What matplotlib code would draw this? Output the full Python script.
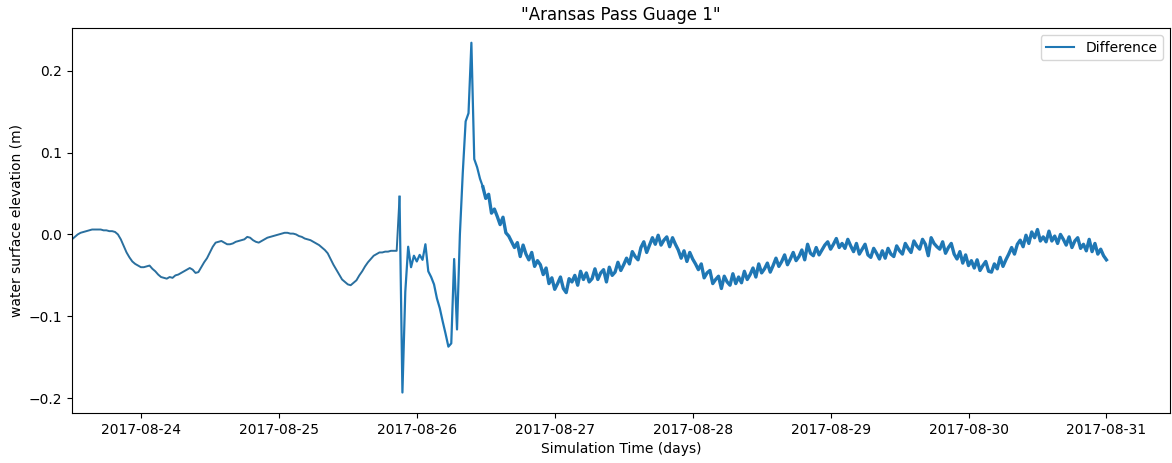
import matplotlib
matplotlib.use("Agg")
import matplotlib.pyplot as plt
import matplotlib.dates as mdates
import numpy as np
import pandas as pd

# Water surface elevation difference (m), sampled every 30 min from 2017-08-23 12:00
start_time = "2017-08-23 12:00"
sample_step = "30min"

# calm period before the storm (hours 0 - 56.5)
calm_vals = [
    -0.006, -0.003, 0.000, 0.002, 0.003, 0.004, 0.005, 0.006, 0.006, 0.006, 0.006, 0.005,
    0.005, 0.004, 0.004, 0.003, 0.000, -0.006, -0.014, -0.022, -0.028, -0.033, -0.036, -0.038,
    -0.040, -0.040, -0.039, -0.038, -0.042, -0.045, -0.049, -0.052, -0.053, -0.054, -0.052, -0.053,
    -0.050, -0.049, -0.047, -0.045, -0.043, -0.041, -0.043, -0.047, -0.046, -0.040, -0.034, -0.029,
    -0.022, -0.015, -0.010, -0.009, -0.008, -0.010, -0.012, -0.012, -0.011, -0.009, -0.008, -0.007,
    -0.006, -0.003, -0.004, -0.007, -0.009, -0.010, -0.008, -0.006, -0.004, -0.003, -0.002, -0.001,
    0.000, 0.001, 0.002, 0.002, 0.001, 0.001, 0.000, -0.002, -0.003, -0.005, -0.006, -0.007,
    -0.009, -0.011, -0.013, -0.016, -0.019, -0.023, -0.030, -0.037, -0.043, -0.049, -0.055, -0.058,
    -0.061, -0.062, -0.059, -0.056, -0.050, -0.045, -0.039, -0.034, -0.030, -0.026, -0.024, -0.022,
    -0.022, -0.021, -0.021, -0.020, -0.020, -0.020,
]

# landfall spikes (hours 57 - 71)
storm_vals = [
    0.046, -0.193, -0.070, -0.015, -0.040, -0.026, -0.033, -0.025, -0.031, -0.012, -0.045, -0.052,
    -0.061, -0.078, -0.090, -0.106, -0.121, -0.137, -0.133, -0.030, -0.116, 0.000, 0.075, 0.138,
    0.148, 0.234, 0.092, 0.082, 0.068,
]

# recovery (hours 71.5 - 180), noisy band
recovery_vals = [
    0.058, 0.044, 0.049, 0.026, 0.031, 0.022, 0.012, 0.021, 0.002, -0.002, -0.009, -0.016,
    -0.010, -0.027, -0.013, -0.024, -0.031, -0.022, -0.039, -0.032, -0.037, -0.049, -0.041, -0.060,
    -0.053, -0.067, -0.060, -0.052, -0.066, -0.071, -0.054, -0.058, -0.050, -0.062, -0.045, -0.055,
    -0.047, -0.058, -0.054, -0.042, -0.055, -0.047, -0.043, -0.058, -0.040, -0.050, -0.046, -0.034,
    -0.044, -0.037, -0.029, -0.036, -0.021, -0.027, -0.031, -0.016, -0.009, -0.022, -0.013, -0.004,
    -0.012, -0.001, -0.013, -0.007, -0.003, -0.015, -0.004, -0.012, -0.019, -0.029, -0.020, -0.033,
    -0.022, -0.030, -0.036, -0.043, -0.036, -0.053, -0.047, -0.044, -0.060, -0.055, -0.051, -0.066,
    -0.051, -0.058, -0.062, -0.048, -0.060, -0.052, -0.059, -0.045, -0.055, -0.049, -0.041, -0.052,
    -0.036, -0.047, -0.042, -0.035, -0.046, -0.038, -0.029, -0.039, -0.033, -0.025, -0.037, -0.030,
    -0.022, -0.032, -0.027, -0.019, -0.031, -0.012, -0.023, -0.026, -0.016, -0.025, -0.019, -0.013,
    -0.009, -0.018, -0.012, -0.005, -0.016, -0.011, -0.017, -0.006, -0.014, -0.021, -0.011, -0.024,
    -0.018, -0.012, -0.025, -0.028, -0.017, -0.023, -0.030, -0.020, -0.029, -0.017, -0.024, -0.027,
    -0.014, -0.020, -0.024, -0.011, -0.017, -0.022, -0.008, -0.014, -0.018, -0.006, -0.012, -0.026,
    -0.004, -0.011, -0.015, -0.018, -0.009, -0.023, -0.016, -0.011, -0.024, -0.030, -0.021, -0.035,
    -0.025, -0.038, -0.032, -0.041, -0.031, -0.044, -0.038, -0.033, -0.045, -0.046, -0.036, -0.042,
    -0.028, -0.039, -0.031, -0.024, -0.016, -0.024, -0.012, -0.007, -0.015, -0.001, -0.011, 0.003,
    -0.004, 0.006, -0.008, -0.003, -0.009, 0.004, -0.008, -0.002, -0.011, 0.000, -0.006, -0.013,
    -0.003, -0.016, -0.008, -0.004, -0.017, -0.012, -0.020, -0.006, -0.021, -0.011, -0.024, -0.018,
    -0.026, -0.031,
]

difference = np.array(calm_vals + storm_vals + recovery_vals)
times = pd.date_range(start_time, periods=len(difference), freq=sample_step)
n_calm = len(calm_vals)
n_storm = n_calm + len(storm_vals)

fig = plt.figure(figsize=(11.72, 4.63), dpi=100)
ax = fig.add_axes([0.0614, 0.108, 0.9366, 0.8315])

# one series, drawn in three pieces: the noisy recovery is heavier to mimic the dense band
ax.plot(times[:n_calm + 1], difference[:n_calm + 1], color="#2a6f9e", linewidth=1.4)
ax.plot(times[n_calm:n_storm + 1], difference[n_calm:n_storm + 1], color="#1f77b4", linewidth=1.6)
ax.plot(times[n_storm:], difference[n_storm:], color="#1f77b4", linewidth=2.4,
        solid_joinstyle="round")
ax.plot([], [], color="#1f77b4", linewidth=1.5, label="Difference")

ax.set_xlim(pd.Timestamp("2017-08-23 12:00"), pd.Timestamp("2017-08-31 11:00"))
ax.set_ylim(-0.218, 0.252)
ax.xaxis.set_major_locator(mdates.DayLocator())
ax.xaxis.set_major_formatter(mdates.DateFormatter("%Y-%m-%d"))
ax.set_yticks([-0.2, -0.1, 0.0, 0.1, 0.2])

ax.set_title('"Aransas Pass Guage 1"')
ax.set_xlabel("Simulation Time (days)")
ax.set_ylabel("water surface elevation (m)")
ax.legend(loc="upper right")

fig.savefig("out.png", dpi=100)
